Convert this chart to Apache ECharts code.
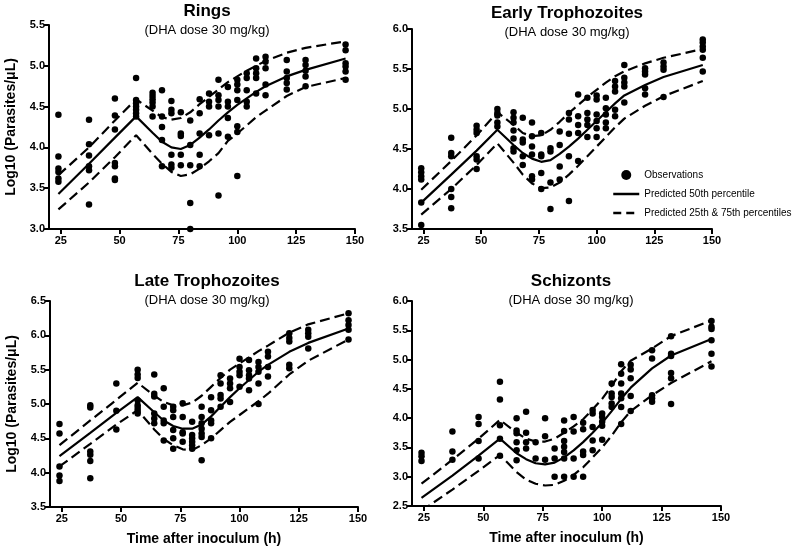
<!DOCTYPE html>
<html>
<head>
<meta charset="utf-8">
<script src="https://cdn.jsdelivr.net/npm/echarts@6/dist/echarts.min.js"></script>
<style>
  html, body { margin: 0; padding: 0; background: #fff; }
  #main { width: 800px; height: 550px; }
</style>
</head>
<body>
<div id="main"></div>
<script>
// sampling times (h) shared by the observations and predicted curves
var times = [24, 37, 48, 57, 64, 68, 72, 76, 80, 84, 88, 92, 96, 100, 104, 108, 112, 121, 129, 146];
var xTicks = [25, 50, 75, 100, 125, 150];

var panelTitles = ['Rings', 'Early Trophozoites', 'Late Trophozoites', 'Schizonts'];
var subTitle = '(DHA dose 30 mg/kg)';

// observations, one list per time point
var ringsObs = [
  [4.40, 3.89, 3.74, 3.70, 3.62, 3.58],
  [4.34, 4.04, 3.90, 3.77, 3.72, 3.30],
  [4.60, 4.39, 4.22, 3.81, 3.77, 3.62, 3.60],
  [4.85, 4.58, 4.54, 4.50, 4.46, 4.42, 4.38],
  [4.67, 4.63, 4.59, 4.55, 4.50, 4.38],
  [4.70, 4.38, 4.25, 4.09, 3.77],
  [4.57, 4.46, 4.42, 3.91, 3.79, 3.75],
  [4.43, 4.17, 4.14, 3.91, 3.78],
  [4.33, 4.03, 3.78, 3.32, 3.00],
  [4.59, 4.42, 4.17, 3.91, 3.77],
  [4.66, 4.56, 4.50, 4.15],
  [4.83, 4.64, 4.58, 4.50, 4.17, 3.41],
  [4.74, 4.56, 4.50, 4.36, 4.13],
  [4.83, 4.77, 4.70, 4.58, 4.26, 4.19, 3.65],
  [4.91, 4.85, 4.70, 4.56, 4.50],
  [5.09, 4.97, 4.91, 4.85, 4.66],
  [5.11, 5.05, 4.97, 4.77, 4.64],
  [5.07, 4.93, 4.85, 4.79, 4.71],
  [5.07, 5.01, 4.94, 4.87, 4.75],
  [5.26, 5.19, 5.03, 4.99, 4.93, 4.83]
];
var earlyObs = [
  [4.26, 4.21, 4.16, 4.12, 3.83, 3.55],
  [4.64, 4.45, 4.41, 4.00, 3.90, 3.76],
  [4.79, 4.74, 4.70, 4.41, 4.37, 4.25],
  [5.00, 4.95, 4.92, 4.83, 4.78],
  [4.96, 4.89, 4.83, 4.73, 4.63, 4.51, 4.47],
  [4.89, 4.62, 4.58, 4.41, 4.30],
  [4.83, 4.66, 4.53, 4.43, 4.16, 4.12],
  [4.70, 4.43, 4.41, 4.20, 4.00],
  [4.51, 4.47, 4.08, 3.75],
  [4.72, 4.55, 4.28, 4.12],
  [4.95, 4.87, 4.69, 4.41, 3.85],
  [5.18, 4.91, 4.80, 4.70, 4.35],
  [5.14, 4.95, 4.87, 4.80, 4.65],
  [5.17, 5.12, 4.93, 4.85, 4.76, 4.65],
  [5.14, 5.01, 4.93, 4.83, 4.76],
  [5.35, 5.28, 5.22, 4.99, 4.91],
  [5.55, 5.39, 5.33, 5.28, 5.08],
  [5.51, 5.47, 5.43, 5.26, 5.18],
  [5.58, 5.53, 5.49, 5.15],
  [5.87, 5.83, 5.78, 5.74, 5.64, 5.47]
];
var lateObs = [
  [4.71, 4.57, 4.09, 3.96, 3.88],
  [4.98, 4.95, 4.31, 4.26, 4.17, 3.92],
  [5.30, 4.90, 4.63],
  [5.50, 5.43, 5.38, 5.05, 4.98, 4.94, 4.90, 4.86],
  [5.43, 5.15, 5.11, 4.86, 4.79, 4.72],
  [5.23, 4.96, 4.76, 4.72, 4.47],
  [4.96, 4.91, 4.81, 4.62, 4.50, 4.35],
  [5.01, 4.81, 4.59, 4.57, 4.45],
  [4.74, 4.55, 4.50, 4.45, 4.40, 4.35],
  [4.96, 4.81, 4.72, 4.64, 4.57, 4.52, 4.18],
  [5.10, 4.91, 4.76, 4.72, 4.50],
  [5.42, 5.30, 5.13, 5.08, 4.96],
  [5.37, 5.30, 5.23, 5.03],
  [5.66, 5.54, 5.47, 5.42, 5.25],
  [5.64, 5.49, 5.42, 5.37, 5.20],
  [5.61, 5.54, 5.47, 5.30, 5.00],
  [5.76, 5.69, 5.54, 5.40],
  [6.03, 5.96, 5.91, 5.57, 5.52],
  [6.08, 6.03, 5.98, 5.81],
  [6.32, 6.22, 6.15, 6.08, 5.94]
];
var schizObs = [
  [3.41, 3.35, 3.27],
  [3.77, 3.43, 3.29],
  [4.02, 3.90, 3.61, 3.31],
  [4.62, 4.32, 3.88, 3.65, 3.36],
  [4.00, 3.79, 3.74, 3.59, 3.45, 3.28],
  [4.11, 3.75, 3.59, 3.48],
  [3.59, 3.31],
  [4.00, 3.69, 3.29],
  [3.48, 3.31, 3.00],
  [3.96, 3.78, 3.61, 3.51, 3.42, 3.31, 3.00],
  [4.02, 3.77, 3.31, 3.00],
  [3.92, 3.81, 3.43, 3.37, 3.00],
  [4.14, 4.08, 3.85, 3.62, 3.45],
  [4.08, 4.02, 3.94, 3.87, 3.63],
  [4.59, 4.42, 4.36, 4.25, 4.19],
  [4.92, 4.76, 4.59, 4.42, 4.34, 4.19, 3.90],
  [4.91, 4.83, 4.68, 4.38, 4.12],
  [5.16, 5.02, 4.39, 4.34, 4.28],
  [5.40, 5.10, 5.06, 4.77, 4.68, 4.24],
  [5.66, 5.56, 5.52, 5.33, 5.10, 4.88]
];

// predicted percentiles at the same times
var ringsP50 = [3.43, 3.80, 4.12, 4.38, 4.18, 4.07, 4.00, 3.98, 4.03, 4.12, 4.22, 4.33, 4.43, 4.52, 4.60, 4.68, 4.75, 4.87, 4.95, 5.09];
var ringsP75 = [3.66, 4.00, 4.33, 4.59, 4.45, 4.37, 4.34, 4.36, 4.43, 4.53, 4.62, 4.71, 4.80, 4.87, 4.94, 5.00, 5.06, 5.16, 5.22, 5.30];
var ringsP25 = [3.24, 3.57, 3.88, 4.15, 3.92, 3.80, 3.70, 3.65, 3.67, 3.74, 3.83, 3.93, 4.08, 4.17, 4.27, 4.37, 4.45, 4.63, 4.74, 4.85];

var earlyP50 = [3.83, 4.18, 4.48, 4.74, 4.55, 4.45, 4.38, 4.34, 4.36, 4.44, 4.53, 4.63, 4.74, 4.85, 4.96, 5.07, 5.17, 5.30, 5.40, 5.55];
var earlyP75 = [3.99, 4.35, 4.67, 4.96, 4.80, 4.70, 4.66, 4.67, 4.74, 4.84, 4.95, 5.05, 5.15, 5.24, 5.33, 5.41, 5.47, 5.57, 5.64, 5.75];
var earlyP25 = [3.68, 4.00, 4.30, 4.57, 4.33, 4.18, 4.07, 4.01, 4.02, 4.08, 4.18, 4.29, 4.41, 4.53, 4.65, 4.77, 4.88, 5.04, 5.16, 5.35];

var lateP50 = [4.24, 4.58, 4.87, 5.10, 4.88, 4.76, 4.68, 4.64, 4.64, 4.70, 4.82, 4.96, 5.10, 5.23, 5.35, 5.47, 5.57, 5.76, 5.89, 6.10];
var lateP75 = [4.40, 4.76, 5.06, 5.31, 5.12, 5.03, 4.98, 4.98, 5.02, 5.12, 5.25, 5.38, 5.50, 5.59, 5.68, 5.77, 5.85, 6.04, 6.16, 6.32];
var lateP25 = [4.09, 4.42, 4.70, 4.91, 4.63, 4.49, 4.40, 4.34, 4.33, 4.40, 4.50, 4.62, 4.74, 4.84, 4.94, 5.04, 5.15, 5.43, 5.63, 5.94];

var schizP50 = [2.64, 3.02, 3.36, 3.65, 3.40, 3.30, 3.23, 3.21, 3.24, 3.33, 3.45, 3.59, 3.75, 3.92, 4.12, 4.33, 4.52, 4.85, 5.07, 5.35];
var schizP75 = [2.88, 3.29, 3.65, 3.97, 3.75, 3.65, 3.60, 3.60, 3.65, 3.75, 3.86, 3.98, 4.15, 4.33, 4.55, 4.80, 4.98, 5.19, 5.40, 5.67];
var schizP25 = [2.42, 2.78, 3.10, 3.37, 3.08, 2.95, 2.88, 2.85, 2.86, 2.93, 3.03, 3.16, 3.33, 3.50, 3.70, 3.93, 4.12, 4.39, 4.60, 4.97];

var yMins = [3.0, 3.5, 3.5, 2.5];
var yMaxs = [5.5, 6.0, 6.5, 6.0];

var font = 'Arial, "Liberation Sans", sans-serif';

var grids = [
  { left: 49, top: 25, width: 306, height: 204 },
  { left: 412, top: 29, width: 300, height: 200 },
  { left: 50, top: 301, width: 308, height: 206 },
  { left: 412, top: 301, width: 309, height: 205 }
];
var titlePos = [[202, -2], [562, 0], [202, 268], [566, 268]];

var allObs = [ringsObs, earlyObs, lateObs, schizObs];
var allP50 = [ringsP50, earlyP50, lateP50, schizP50];
var allP25 = [ringsP25, earlyP25, lateP25, schizP25];
var allP75 = [ringsP75, earlyP75, lateP75, schizP75];

function pairs(ys) {
  var out = [];
  for (var i = 0; i < times.length; i++) out.push([times[i], ys[i]]);
  return out;
}

var titles = [], xAxes = [], yAxes = [], series = [];
for (var p = 0; p < 4; p++) {
  titles.push({
    text: panelTitles[p],
    subtext: subTitle,
    left: titlePos[p][0], top: titlePos[p][1], textAlign: 'center',
    itemGap: 4,
    textStyle: { fontFamily: font, fontSize: 17, fontWeight: 'bold', color: '#000' },
    subtextStyle: { fontFamily: font, fontSize: 13, color: '#000' }
  });

  xAxes.push({
    gridIndex: p, type: 'value', min: 20, max: 150,
    name: p >= 2 ? 'Time after inoculum (h)' : '',
    nameLocation: 'middle', nameGap: 25,
    nameTextStyle: { fontFamily: font, fontSize: 14, fontWeight: 'bold', color: '#000' },
    axisLine: { lineStyle: { color: '#000', width: 2 } },
    axisTick: { show: true, length: 5, lineStyle: { color: '#000', width: 2 }, customValues: xTicks },
    axisLabel: { customValues: xTicks, margin: 6, fontFamily: font, fontSize: 11, fontWeight: 'bold', color: '#000' },
    splitLine: { show: false }
  });

  yAxes.push({
    gridIndex: p, type: 'value', min: yMins[p], max: yMaxs[p], interval: 0.5,
    name: (p % 2 === 0) ? 'Log10 (Parasites/μL)' : '',
    nameLocation: 'middle', nameGap: 31,
    nameTextStyle: { fontFamily: font, fontSize: 14, fontWeight: 'bold', color: '#000' },
    axisLine: { show: true, lineStyle: { color: '#000', width: 2 } },
    axisTick: { show: true, length: 5, lineStyle: { color: '#000', width: 2 } },
    axisLabel: { margin: 4, fontFamily: font, fontSize: 11, fontWeight: 'bold', color: '#000',
      formatter: function (v) { return v.toFixed(1); } },
    splitLine: { show: false }
  });

  var obsData = [];
  for (var i = 0; i < times.length; i++) {
    var col = allObs[p][i];
    for (var k = 0; k < col.length; k++) obsData.push([times[i], col[k]]);
  }

  series.push({
    name: 'Observations', type: 'scatter', xAxisIndex: p, yAxisIndex: p,
    data: obsData, symbol: 'circle', symbolSize: 6.5,
    itemStyle: { color: '#000', opacity: 1 }, z: 3
  });
  series.push({
    name: 'Predicted 50th percentile', type: 'line', xAxisIndex: p, yAxisIndex: p,
    data: pairs(allP50[p]), symbol: 'none', clip: true,
    lineStyle: { color: '#000', width: 2.2 }, itemStyle: { color: '#000' }
  });
  series.push({
    name: 'Predicted 25th & 75th percentiles', type: 'line', xAxisIndex: p, yAxisIndex: p,
    data: pairs(allP75[p]), symbol: 'none', clip: true,
    lineStyle: { color: '#000', width: 2.2, type: [10, 5] }, itemStyle: { color: '#000' }
  });
  series.push({
    name: 'Predicted 25th & 75th percentiles', type: 'line', xAxisIndex: p, yAxisIndex: p,
    data: pairs(allP25[p]), symbol: 'none', clip: true,
    lineStyle: { color: '#000', width: 2.2, type: [10, 5] }, itemStyle: { color: '#000' }
  });
}

var chart = echarts.init(document.getElementById('main'));
chart.setOption({
  backgroundColor: '#fff',
  animation: false,
  title: titles,
  legend: {
    orient: 'vertical', left: 607, top: 165,
    itemWidth: 26, itemHeight: 10, itemGap: 9,
    textStyle: { fontFamily: font, fontSize: 10, color: '#000' },
    data: [
      { name: 'Observations', itemStyle: { color: '#000', opacity: 1 } },
      { name: 'Predicted 50th percentile', itemStyle: { color: 'rgba(0,0,0,0)', opacity: 0 },
        lineStyle: { color: '#000', width: 2.5, type: 'solid' } },
      { name: 'Predicted 25th & 75th percentiles', itemStyle: { color: 'rgba(0,0,0,0)', opacity: 0 },
        lineStyle: { color: '#000', width: 2.5, type: [8, 5] } }
    ]
  },
  grid: grids,
  xAxis: xAxes,
  yAxis: yAxes,
  series: series
});
</script>
</body>
</html>
